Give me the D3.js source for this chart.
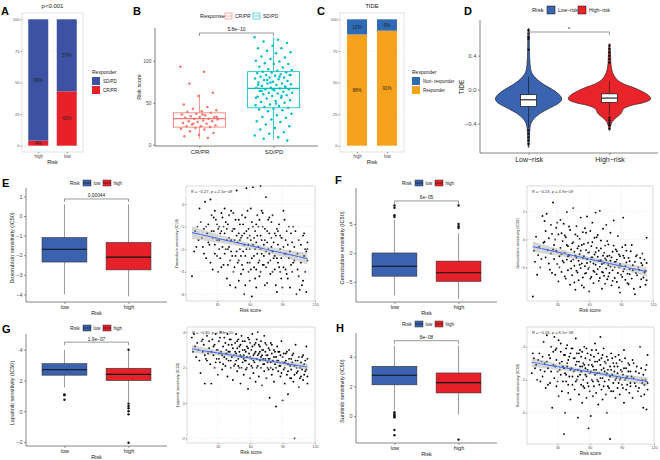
<!DOCTYPE html>
<html>
<head>
<meta charset="utf-8">
<script src="https://d3js.org/d3.v7.min.js"></script>
<style>
  body { margin: 0; background: #fff; }
  svg { font-family: "Liberation Sans", Arial, Helvetica, sans-serif; }
</style>
</head>
<body>
<svg id="fig" width="660" height="460"></svg>
<script>
// ---------------- data ----------------
var riskGroups = ['high', 'low']
var pctTicks = [0, 25, 50, 75, 100]
// A: responders by risk group (%)
var aCRPR = [4, 43]
var aSDPD = [96, 57]
// C: TIDE prediction (%)
var cResponder = [88, 91]
var cNonResponder = [12, 9]

// B: risk score by response
var responseGroups = ['CR/PR', 'SD/PD']
var crprScores = [93, 87, 73, 62, 58, 48, 45, 43, 41, 40, 39, 38, 37, 36, 35, 34, 33, 33, 32, 31, 31, 30, 29, 28, 28, 27,
  26, 25, 24, 23, 22, 22, 21, 20, 19, 18, 16, 14, 12, 10, 8, 25, 33, 36]
var sdpdScores = [128, 125, 123, 121, 118, 115, 115, 112, 110, 109, 105, 104, 102, 100, 99, 97, 96, 96, 93, 92, 90, 89, 88,
  87, 86, 86, 85, 84, 83, 83, 82, 81, 80, 80, 79, 78, 77, 76, 75, 74, 73, 73, 72, 71, 70, 69, 68, 68, 67, 66, 66, 65, 64,
  63, 62, 62, 61, 60, 59, 58, 57, 56, 55, 53, 52, 51, 50, 48, 47, 46, 45, 44, 43, 42, 41, 40, 37, 35, 33, 32, 30, 28, 27,
  24, 22, 20, 18, 15, 13, 11, 9, 7, 5, 66, 71, 58, 77, 83, 49, 64, 69, 74, 56, 81]
var bBoxStats = [[7, 21, 31, 38, 60], [6, 44, 67, 87, 128]]   // whisker lo, q1, median, q3, whisker hi
var bTicks = [0, 50, 100]

// D: TIDE violins (value, relative density)
var dGroups = ['Low-risk', 'High-risk']
var lowViolin = [[0.72, 0], [0.6, 0.012], [0.45, 0.015], [0.3, 0.03], [0.2, 0.07], [0.15, 0.14], [0.1, 0.25], [0.05, 0.4],
  [0, 0.58], [-0.05, 0.72], [-0.1, 0.8], [-0.13, 0.79], [-0.17, 0.7], [-0.22, 0.5], [-0.28, 0.28], [-0.34, 0.13],
  [-0.4, 0.05], [-0.5, 0.02], [-0.6, 0.012], [-0.68, 0]]
var highViolin = [[0.54, 0], [0.45, 0.015], [0.3, 0.03], [0.2, 0.07], [0.12, 0.17], [0.07, 0.33], [0.03, 0.55],
  [-0.02, 0.78], [-0.07, 0.95], [-0.11, 1.0], [-0.15, 0.85], [-0.19, 0.5], [-0.23, 0.33], [-0.28, 0.28], [-0.33, 0.16],
  [-0.38, 0.06], [-0.43, 0.02], [-0.48, 0]]
var dBoxStats = [[-0.45, -0.2, -0.12, -0.06, 0.15], [-0.3, -0.15, -0.1, -0.05, 0.1]]
var dOutliers = [[0.7, 0.66, 0.62, 0.6, 0.47, -0.48, -0.52, -0.56, -0.6, -0.64],
  [0.52, 0.48, 0.44, 0.4, 0.36, 0.32, -0.33, -0.36, -0.39, -0.42, -0.46]]
var dTicks = [-0.4, 0, 0.4]

// E-H: drug sensitivity box plots
var boxGroups = ['low', 'high']
var eStats = [[-4.0, -2.35, -1.7, -1.1, 0.6], [-4.1, -2.75, -2.1, -1.35, 0.6]]
var eOut = [[], []]
var fStats = [[-7.3, -4.0, -2.3, 0.0, 5.7], [-7.9, -4.9, -3.4, -1.4, 3.4]]
var fOut = [[6.2, 6.5, 7.8, 8.2], [4.3, 4.6, 5.0, 8.2]]
var gStats = [[1.55, 2.35, 2.7, 3.1, 4.0], [0.6, 2.0, 2.4, 2.8, 3.95]]
var gOut = [[1.1, 1.05, 0.75], [4.0, 0.5, 0.35, 0.2, 0.0, -0.2, -2.05]]
var hStats = [[0.4, 2.1, 2.75, 3.35, 4.75], [0.1, 1.55, 2.25, 2.9, 4.75]]
var hOut = [[0.25, 0.15, 0.05, -0.05, -0.1, -0.95, -1.3], [-1.6]]

// E-H: scatter vs risk score  [risk score, IC50]
var scatterTicks = [30, 60, 90, 120]
var ePts = [[7,-3.2],[9,-2.1],[10,-1.2],[12,-1.0],[13,-1.6],[14,-0.2],[16,-1.5],[17,-1.9],[18,-1.1],[19,0.1],[20,-2.4],[21,-1.3],
  [22,-0.9],[23,-1.8],[24,0.2],[25,-1.2],[26,-2.9],[27,-1.2],[27,-0.6],[28,-2.2],[29,-0.7],[29,-1.5],[30,-1.6],[31,-3.0],[31,-1.1],
  [32,-1.0],[33,-2.4],[33,-1.3],[34,-0.4],[35,-1.9],[36,-2.7],[36,-1.0],[37,-1.3],[38,-0.8],[38,-2.0],[39,-3.3],[39,-1.6],[40,-2.0],
  [40,-0.9],[41,-1.5],[42,-3.6],[42,-2.5],[43,-0.3],[44,-2.3],[44,-1.2],[45,-1.1],[46,-2.8],[46,-1.6],[47,-3.7],[47,-0.7],[48,0.6],
  [48,-2.1],[49,-1.7],[49,-2.6],[50,-2.5],[50,-1.3],[51,-0.9],[51,-2.0],[52,-3.1],[52,-1.5],[53,-1.4],[53,-0.5],[54,-2.1],[54,-2.9],
  [55,-4.0],[55,-1.8],[56,-0.6],[56,-2.3],[57,0.7],[57,-1.2],[58,-2.6],[58,-1.5],[59,-1.8],[59,-3.0],[60,-3.4],[60,-2.0],[61,-0.2],
  [61,-1.6],[62,-4.1],[62,-2.4],[63,0.75],[63,-1.0],[64,-2.3],[64,-2.8],[65,-1.2],[65,-3.3],[66,-2.9],[66,-1.7],[67,-0.5],[67,-2.2],
  [68,-1.9],[68,-1.0],[69,-3.2],[69,-2.5],[70,0.8],[70,-1.4],[71,-2.2],[71,-0.3],[72,-1.0],[72,-2.7],[73,-2.7],[73,-1.8],[74,-1.6],
  [74,-3.6],[75,0.3],[75,-2.1],[76,-3.5],[76,-1.2],[77,-2.0],[77,-2.6],[78,-1.3],[78,-0.6],[79,-2.5],[80,-0.8],[80,-1.9],[81,-3.0],
  [82,-1.7],[82,-2.4],[83,-2.3],[84,-3.6],[84,-1.4],[85,-1.1],[86,-2.6],[86,-1.8],[87,-0.9],[88,-2.0],[88,-3.0],[89,-3.3],[89,-1.5],
  [90,-1.5],[91,-2.8],[92,-0.7],[92,-2.2],[93,-2.2],[94,-3.1],[94,-1.2],[95,-1.8],[96,-2.4],[97,-3.7],[98,-1.3],[98,-2.7],[100,-2.6],
  [100,-1.0],[101,-1.9],[103,-4.0],[104,-2.9],[105,-1.6],[106,-3.8],[108,-3.6],[109,-1.4],[110,-2.3],[111,-3.0],[112,-2.1],[113,-2.5],[113,-2.0],
  [11,-1.9],[15,-0.8],[18,-2.2],[20,-1.0],[22,-1.7],[24,-2.6],[25,-0.5],[26,-1.5],[28,-0.3],[28,-1.8],[30,-2.3],[30,-0.9],[32,-2.0],
  [32,-1.6],[34,-1.2],[34,-2.8],[35,-0.6],[37,-2.2],[37,-0.2],[39,-1.1],[40,-2.7],[41,-0.5],[41,-1.9],[43,-1.6],[43,-2.1],[45,-3.0],
  [45,-0.4],[46,-1.1],[47,-2.3],[48,-1.4],[50,-0.7],[50,-3.4],[51,-1.6],[52,-2.3],[53,-2.7],[54,-0.9],[55,-1.3],[56,-3.6],[57,-2.0],
  [58,-0.3],[59,-1.1],[60,-1.4],[60,-2.6],[61,-2.9],[62,-0.8],[63,-1.8],[64,-1.5],[65,-2.0],[66,-0.9],[66,-3.7],[67,-1.4],[68,-2.6],
  [69,-0.7],[70,-2.0],[70,-3.0],[71,-1.6],[72,-0.4],[73,-2.3],[74,-1.1],[75,-2.8],[76,-1.7],[77,-0.7],[78,-2.2],[79,-3.1],[80,-1.5],
  [81,-2.1],[81,-0.5],[83,-1.3],[83,-2.9],[85,-2.4],[85,-3.9],[86,-1.2],[87,-2.8],[88,-1.4],[89,-2.4],[90,-3.7],[91,-1.9],[91,-0.3],
  [93,-1.6],[93,-2.9],[95,-3.3],[96,-1.0],[97,-2.1],[99,-1.7],[99,-3.0],[101,-2.5],[102,-1.2],[104,-2.2],[105,-3.2],[107,-2.6],
  [107,-1.8],[109,-3.4],[110,-1.3],[111,-2.0],[112,-3.9],[113,-1.7]]
var fPts = [[7,-10.2],[9,-4.0],[10,0.5],[12,-2.8],[13,-1.3],[14,-5.0],[16,4.2],[17,-0.6],[18,3.3],[19,-3.2],[20,4.6],[21,-1.9],
  [22,0.2],[23,-5.4],[24,-2.5],[25,1.0],[26,6.6],[27,-3.5],[27,-1.0],[28,-6.3],[29,2.1],[29,-2.0],[30,-4.4],[31,0.9],[31,-7.5],
  [32,-3.0],[33,3.5],[33,-1.5],[34,-5.8],[35,-0.3],[36,-4.1],[36,2.8],[37,-2.4],[38,-7.0],[38,0.4],[39,-3.6],[39,4.9],[40,-1.2],
  [40,-5.5],[41,-2.9],[42,1.7],[42,-8.1],[43,-3.9],[44,-0.7],[44,-6.4],[45,5.6],[46,-2.2],[46,-4.7],[47,0.9],[47,-9.0],[48,-3.3],
  [48,2.4],[49,-5.9],[49,-1.6],[50,-3.8],[50,-7.3],[51,0.1],[51,-2.6],[52,3.9],[52,-5.1],[53,-1.0],[53,-4.3],[54,-6.8],[54,1.3],
  [55,-3.0],[55,-8.6],[56,2.0],[56,-4.8],[57,-1.9],[57,-6.0],[58,4.1],[58,-3.5],[59,-0.6],[59,-5.3],[60,-2.3],[60,-9.3],[61,1.5],
  [61,-4.0],[62,-6.7],[62,-1.2],[63,3.0],[63,-3.2],[64,-5.6],[64,-7.8],[65,0.3],[65,-2.7],[66,-4.5],[66,4.8],[67,-1.5],[67,-6.2],
  [68,-3.1],[68,0.8],[69,-7.4],[69,-2.0],[70,5.1],[70,-4.9],[71,-3.7],[71,-0.2],[72,-5.8],[72,-8.8],[73,1.9],[73,-2.9],[74,-4.2],
  [74,-6.5],[75,-1.1],[75,-3.4],[76,-5.2],[76,2.6],[77,-7.1],[77,-3.0],[78,-0.9],[78,-4.6],[79,-6.0],[80,1.2],[80,-3.8],[81,-8.2],
  [82,-2.2],[82,-5.5],[83,3.4],[84,-4.0],[84,-6.9],[85,-1.8],[86,-3.6],[86,-7.6],[87,0.6],[88,-5.0],[88,-2.7],[89,-9.5],[89,-4.4],
  [90,-6.3],[91,-1.4],[92,-5.7],[92,3.9],[93,-3.3],[94,-7.2],[94,-4.8],[95,-2.0],[96,-6.1],[97,-8.0],[98,-3.9],[98,-5.3],[100,-1.0],
  [100,-7.0],[101,-4.6],[103,-9.8],[104,-3.0],[105,-6.4],[106,-5.0],[108,-8.5],[109,-4.2],[110,-2.5],[111,-6.8],[112,-3.6],[113,-5.6],
  [114,0.3],[114,-7.3],
  [8,-2.0],[11,-6.3],[15,-3.5],[18,-0.4],[19,1.5],[22,-4.3],[24,2.6],[25,-6.0],[26,-1.8],[28,0.0],[30,-2.3],[30,3.0],[32,-5.0],
  [34,-2.6],[34,1.1],[35,-3.8],[37,-6.6],[37,0.7],[39,-1.0],[40,-3.0],[41,2.3],[43,-5.2],[43,-1.8],[45,-3.6],[45,-0.5],[46,-7.7],
  [47,-2.9],[48,-5.6],[49,0.6],[50,-1.2],[51,-4.5],[52,-2.0],[53,-8.2],[54,-3.3],[55,-0.8],[56,-6.1],[57,1.2],[58,-4.2],[59,-2.4],
  [60,-5.0],[61,-7.0],[62,-3.2],[63,-0.5],[64,-4.3],[65,-5.8],[66,-2.3],[67,0.4],[68,-5.3],[69,-3.8],[70,-6.9],[71,-1.6],[72,-4.4],
  [73,-5.9],[74,-2.4],[75,-7.9],[76,-3.7],[77,-0.3],[78,-6.6],[79,-2.9],[80,-4.9],[81,-3.2],[82,-7.4],[83,-1.1],[84,-5.0],[85,-4.0],
  [86,-2.1],[87,-6.0],[88,-8.6],[89,-3.0],[90,-4.8],[91,-6.7],[92,-2.9],[93,-5.3],[94,-1.0],[95,-4.1],[96,-7.8],[97,-3.3],[98,-6.2],
  [99,-2.1],[101,-5.5],[102,-8.8],[103,-4.0],[104,-6.0],[105,-2.8],[107,-5.4],[108,-3.3],[109,-7.1],[110,-4.6],[112,-5.9],[113,-8.1],
  [114,-4.2]]
var gPts = [[6,3.7],[8,3.9],[9,3.2],[10,2.6],[12,3.0],[14,1.7],[15,3.5],[16,2.9],[17,3.3],[18,1.1],[19,2.5],[20,3.8],[21,2.8],
  [22,3.1],[23,2.2],[24,1.1],[25,3.6],[26,2.7],[27,3.3],[27,2.0],[28,3.9],[29,2.5],[29,3.0],[30,1.6],[31,2.8],[31,3.5],[32,2.3],
  [33,4.0],[33,2.9],[34,1.9],[35,3.2],[36,2.6],[36,3.7],[37,2.1],[38,3.0],[38,2.8],[39,3.9],[39,1.5],[40,2.4],[40,3.3],[41,2.9],
  [42,2.0],[42,3.6],[43,2.6],[44,3.1],[44,1.3],[45,2.7],[46,3.4],[46,2.2],[47,3.9],[47,2.8],[48,1.8],[48,3.1],[49,2.5],[49,3.6],
  [50,2.0],[50,2.9],[51,3.3],[51,1.1],[52,2.6],[52,3.8],[53,2.3],[53,3.0],[54,1.6],[54,2.7],[55,3.5],[55,2.4],[56,2.9],[56,1.9],
  [57,3.2],[57,2.6],[58,0.8],[58,3.7],[59,2.2],[59,2.8],[60,3.4],[60,1.4],[61,2.5],[61,3.0],[62,2.0],[62,3.9],[63,2.7],[63,1.7],
  [64,3.3],[64,2.3],[65,2.9],[65,1.2],[66,3.6],[66,2.5],[67,4.0],[67,2.1],[68,2.8],[68,1.5],[69,3.2],[69,2.4],[70,2.0],[70,3.5],
  [71,2.7],[71,1.0],[72,3.0],[72,2.2],[73,3.8],[73,1.8],[74,2.5],[74,2.9],[75,1.4],[75,3.3],[76,2.3],[76,2.7],[77,3.1],[77,1.9],
  [78,0.3],[78,2.5],[79,3.4],[79,2.0],[80,2.8],[80,1.6],[81,2.4],[82,3.0],[82,1.2],[83,2.2],[84,-0.2],[84,2.6],[85,3.2],[86,1.8],
  [86,2.4],[87,2.9],[88,1.5],[88,2.1],[89,3.5],[90,0.15],[90,2.6],[91,1.9],[92,2.3],[92,1.1],[93,2.8],[94,1.6],[95,0.5],[95,2.2],
  [96,3.0],[97,1.4],[98,2.5],[98,1.9],[99,2.7],[100,1.2],[101,-2.0],[101,2.1],[102,3.3],[103,1.7],[104,2.4],[105,0.9],[106,2.0],
  [107,1.5],[108,2.6],[109,1.3],[110,2.2],[111,1.8],[112,3.2],[113,1.5],[113,2.5],
  [7,2.9],[11,3.4],[13,2.4],[16,3.6],[18,2.7],[20,2.4],[22,3.5],[24,2.9],[26,3.2],[28,2.3],[30,3.0],[31,2.5],[32,3.7],[34,2.7],
  [35,2.2],[37,3.4],[38,2.5],[40,2.9],[41,3.6],[42,2.4],[43,3.3],[45,2.1],[46,2.9],[47,2.4],[48,3.5],[49,2.1],[50,3.2],[51,2.7],
  [52,2.0],[53,3.5],[54,2.5],[55,3.0],[56,2.4],[57,2.0],[58,3.1],[59,3.6],[60,2.6],[61,2.1],[62,3.2],[63,2.4],[64,2.8],[65,3.4],
  [66,2.0],[67,2.7],[68,3.3],[69,2.9],[70,2.6],[71,3.0],[72,2.5],[73,2.2],[74,3.4],[75,2.7],[76,2.0],[77,2.5],[78,3.0],[79,2.3],
  [80,3.3],[81,1.9],[82,2.6],[83,2.9],[84,2.0],[85,2.4],[86,2.9],[87,2.1],[88,2.7],[89,1.7],[90,2.3],[91,2.8],[92,2.0],[93,2.4],
  [94,2.9],[95,1.8],[96,2.5],[97,2.1],[98,1.4],[99,2.3],[100,2.8],[101,1.6],[102,2.4],[103,2.0],[104,1.8],[105,2.6],[106,1.4],
  [107,2.3],[108,1.9],[109,2.7],[110,1.6],[111,2.4],[112,1.9],[113,1.1]]
var hPts = [[6,2.4],[8,3.3],[10,2.9],[11,2.0],[13,3.6],[14,2.6],[15,3.1],[16,2.2],[17,4.3],[18,3.0],[19,1.5],[20,4.7],[21,2.7],
  [22,3.5],[23,1.8],[24,4.0],[25,0.3],[26,2.9],[27,4.6],[27,2.1],[28,3.8],[29,1.6],[29,3.2],[30,2.5],[31,4.4],[31,1.0],[32,3.0],
  [33,2.3],[33,3.7],[34,1.3],[35,2.8],[36,-1.3],[36,3.5],[37,0.0],[37,2.4],[38,3.9],[38,1.9],[39,2.8],[39,4.1],[40,1.2],[40,3.2],
  [41,2.2],[42,3.6],[42,0.8],[43,2.7],[44,1.7],[44,3.9],[45,2.5],[46,3.3],[46,1.4],[47,2.9],[47,4.5],[48,2.0],[48,3.6],[49,-0.3],
  [49,2.6],[50,3.1],[50,1.1],[51,3.8],[51,2.3],[52,1.7],[52,3.4],[53,2.8],[53,0.6],[54,3.0],[54,2.0],[55,4.0],[55,1.5],[56,2.7],
  [56,3.3],[57,0.9],[57,2.2],[58,3.6],[58,1.8],[59,-0.95],[59,2.9],[60,3.2],[60,1.3],[61,-0.2],[61,2.5],[62,3.8],[62,2.0],[63,1.0],
  [63,2.8],[64,3.4],[64,1.6],[65,2.3],[65,4.2],[66,2.6],[66,1.2],[67,3.1],[67,2.0],[68,0.5],[68,3.6],[69,2.4],[69,1.7],[70,2.9],
  [70,4.6],[71,1.4],[71,3.3],[72,2.1],[72,0.8],[73,2.7],[73,3.9],[74,1.9],[74,2.5],[75,3.0],[75,1.1],[76,0.0],[76,2.4],[77,3.2],
  [77,1.6],[78,2.0],[79,-1.6],[79,2.8],[80,3.6],[80,1.3],[81,2.3],[82,1.8],[82,3.0],[83,2.5],[84,0.9],[84,3.4],[85,2.1],[86,1.5],
  [86,2.8],[87,3.5],[88,2.0],[88,1.1],[89,2.6],[90,3.1],[90,1.7],[91,2.3],[92,0.6],[92,3.8],[93,2.0],[94,2.7],[94,1.4],[95,2.2],
  [96,3.0],[97,1.2],[98,2.5],[98,1.8],[100,3.2],[100,0.9],[101,2.1],[103,1.6],[104,2.8],[105,1.3],[106,2.4],[107,4.0],[108,1.0],
  [109,2.0],[110,0.3],[111,1.7],[112,2.6],[113,0.2],[114,3.5],[114,1.4],
  [7,3.6],[9,2.7],[12,3.2],[14,1.9],[16,3.4],[18,2.5],[20,3.1],[21,1.7],[23,3.3],[24,2.5],[26,3.7],[28,2.8],[29,3.9],[30,1.9],
  [32,2.6],[33,4.2],[34,3.1],[35,1.9],[36,2.7],[37,3.5],[38,2.3],[39,3.0],[40,1.7],[41,3.4],[42,2.6],[43,3.9],[44,2.2],[45,3.3],
  [46,2.6],[47,1.9],[48,3.1],[49,2.2],[50,3.6],[51,2.8],[52,2.5],[53,3.7],[54,1.6],[55,2.9],[56,2.3],[57,3.9],[58,2.6],[59,1.6],
  [60,2.4],[61,3.5],[62,2.9],[63,1.9],[64,2.6],[65,3.1],[66,3.8],[67,2.4],[68,1.9],[69,3.2],[70,2.1],[71,2.6],[72,3.5],[73,1.6],
  [74,3.1],[75,2.3],[76,3.4],[77,2.6],[78,1.5],[79,2.2],[80,2.6],[81,3.3],[82,1.3],[83,2.8],[84,2.0],[85,3.0],[86,2.4],[87,1.8],
  [88,3.2],[89,2.1],[90,2.5],[91,1.5],[92,2.7],[93,3.3],[94,2.1],[95,1.7],[96,2.5],[97,2.9],[98,1.6],[99,2.2],[101,3.0],[102,1.8],
  [103,2.5],[105,2.0],[106,1.5],[108,2.7],[109,1.8],[110,2.3],[111,1.1],[112,2.0],[113,2.9],[114,1.8]]
// fitted lines: [intercept, slope]
var eFit = [-1.19, -0.0109]
var fFit = [-1.0, -0.0417]
var gFit = [3.12, -0.0096]
var hFit = [3.12, -0.0108]

// ---------------- drawing ----------------
var svg = d3.select('#fig')
var riskColors = ['#3A62AE', '#E6212A']

function label(x, y, s, fs, o) {
  o = o || {}
  var t = svg.append('text').attr('x', x).attr('y', y).text(s).attr('font-size', fs)
    .attr('text-anchor', o.anchor || 'start').attr('fill', o.fill || '#000')
  if (o.bold) t.attr('font-weight', 'bold')
  if (o.rotate) t.attr('transform', 'rotate(-90,' + x + ',' + y + ')')
  return t
}

function styleAxis(g, fs, col) {
  g.attr('font-family', null)
  g.select('.domain').remove()
  g.selectAll('.tick line').attr('stroke', '#333').attr('stroke-width', 0.5)
  g.selectAll('.tick text').attr('font-size', fs).attr('fill', col || '#4d4d4d')
}

function hline(x1, x2, y, col, w) {
  svg.append('line').attr('x1', x1).attr('x2', x2).attr('y1', y).attr('y2', y).attr('stroke', col).attr('stroke-width', w)
}
function vline(x, y1, y2, col, w) {
  svg.append('line').attr('x1', x).attr('x2', x).attr('y1', y1).attr('y2', y2).attr('stroke', col).attr('stroke-width', w)
}

// panel letters
label(1, 15, 'A', 11, {bold: true})
label(133, 15, 'B', 11, {bold: true})
label(317, 15, 'C', 11, {bold: true})
label(464, 15, 'D', 11, {bold: true})
label(2, 187, 'E', 11, {bold: true})
label(335, 184, 'F', 11, {bold: true})
label(2, 333, 'G', 11, {bold: true})
label(336, 332, 'H', 11, {bold: true})

// ---- A and C: stacked bars
function stackPanel(o) {
  var x = d3.scalePoint().domain(riskGroups).range([o.x0, o.x1]).padding(0.57)
  var y = d3.scaleLinear().domain([-5, 105]).range([o.y1, o.y0])
  var g = svg.append('g')
  g.append('rect').attr('x', o.x0).attr('y', o.y0).attr('width', o.x1 - o.x0).attr('height', o.y1 - o.y0)
    .attr('fill', '#fff').attr('stroke', '#cfcfcf').attr('stroke-width', 0.6)
  g.selectAll('line.grid').data(pctTicks).enter().append('line')
    .attr('x1', o.x0).attr('x2', o.x1).attr('y1', function (d) { return y(d) }).attr('y2', function (d) { return y(d) })
    .attr('stroke', '#f0f0f0').attr('stroke-width', 0.4)
  var bw = 20
  g.selectAll('rect.lo').data(o.bottom).enter().append('rect')
    .attr('x', function (d, i) { return x(riskGroups[i]) - bw / 2 }).attr('width', bw)
    .attr('y', function (d) { return y(d) }).attr('height', function (d) { return y(0) - y(d) })
    .attr('fill', o.colors[0])
  g.selectAll('rect.hi').data(o.top).enter().append('rect')
    .attr('x', function (d, i) { return x(riskGroups[i]) - bw / 2 }).attr('width', bw)
    .attr('y', function (d, i) { return y(o.bottom[i] + d) })
    .attr('height', function (d, i) { return y(o.bottom[i]) - y(o.bottom[i] + d) })
    .attr('fill', o.colors[1])
  o.bottom.forEach(function (b, i) {
    label(x(riskGroups[i]), y(b / 2) + 1.6, b + '%', 4.5, {anchor: 'middle', fill: '#222'})
    label(x(riskGroups[i]), y(b + o.top[i] / 2) + 1.6, o.top[i] + '%', 4.5, {anchor: 'middle', fill: '#222'})
  })
  var ya = g.append('g').attr('transform', 'translate(' + o.x0 + ',0)')
    .call(d3.axisLeft(y).tickValues(pctTicks).tickSize(1.5).tickPadding(1))
  styleAxis(ya, 4)
  var xa = g.append('g').attr('transform', 'translate(0,' + o.y1 + ')')
    .call(d3.axisBottom(x).tickSize(1.5).tickPadding(1))
  styleAxis(xa, 4.5)
  label((o.x0 + o.x1) / 2, o.y1 + 12, 'Risk', 5.5, {anchor: 'middle', fill: '#222'})
  label((o.x0 + o.x1) / 2, 8, o.title, 6, {anchor: 'middle', fill: '#222'})
  // legend
  label(o.lx, 74, 'Responder', 5, {fill: '#222'})
  o.legend.forEach(function (l, i) {
    svg.append('rect').attr('x', o.lx).attr('y', 77 + i * 9).attr('width', 8).attr('height', 8).attr('fill', l[1])
    label(o.lx + 11, 83 + i * 9, l[0], 4.5, {fill: '#222'})
  })
}

stackPanel({x0: 22, x1: 83, y0: 13, y1: 152, bottom: aCRPR, top: aSDPD, colors: ['#E8202A', '#3C52A3'],
  title: 'p<0.001', lx: 92, legend: [['SD/PD', '#3C52A3'], ['CR/PR', '#E8202A']]})
stackPanel({x0: 340, x1: 404, y0: 13, y1: 152, bottom: cResponder, top: cNonResponder, colors: ['#F7A21C', '#2F6AB4'],
  title: 'TIDE', lx: 412, legend: [['Non\u2212responder', '#2F6AB4'], ['Responder', '#F7A21C']]})

// ---- B: box + jitter
;(function () {
  var x = d3.scalePoint().domain(responseGroups).range([155, 318]).padding(0.6)
  var y = d3.scaleLinear().domain([-1.5, 139]).range([146, 28])
  var bw = x.step() * 0.7
  var cols = ['#F8766D', '#00BFC4']
  var g = svg.append('g')
  bBoxStats.forEach(function (s, i) {
    var cx = x(responseGroups[i])
    g.append('line').attr('x1', cx).attr('x2', cx).attr('y1', y(s[0])).attr('y2', y(s[4])).attr('stroke', cols[i]).attr('stroke-width', 0.8)
    g.append('rect').attr('x', cx - bw / 2).attr('width', bw).attr('y', y(s[3])).attr('height', y(s[1]) - y(s[3]))
      .attr('fill', '#fff').attr('stroke', cols[i]).attr('stroke-width', 0.8)
    g.append('line').attr('x1', cx - bw / 2).attr('x2', cx + bw / 2).attr('y1', y(s[2])).attr('y2', y(s[2]))
      .attr('stroke', cols[i]).attr('stroke-width', 1.2)
  })
  ;[crprScores, sdpdScores].forEach(function (arr, i) {
    var cx = x(responseGroups[i])
    g.selectAll(null).data(arr).enter().append('circle')
      .attr('cx', function (d, k) { return cx + (((k * 0.6180339887) % 1) - 0.5) * 38 })
      .attr('cy', function (d) { return y(d) }).attr('r', 1.25).attr('fill', cols[i])
  })
  vline(155, 28, 146, '#222', 0.6)
  hline(155, 318, 146, '#222', 0.6)
  var ya = g.append('g').attr('transform', 'translate(155,0)').call(d3.axisLeft(y).tickValues(bTicks).tickSize(2).tickPadding(1.5))
  styleAxis(ya, 5)
  var xa = g.append('g').attr('transform', 'translate(0,146)').call(d3.axisBottom(x).tickSize(2).tickPadding(2))
  styleAxis(xa, 6, '#222')
  label(141, 87, 'Risk score', 5.5, {anchor: 'middle', rotate: true, fill: '#222'})
  // bracket
  var by = 33
  g.append('path').attr('d', 'M' + x('CR/PR') + ',' + (by + 3) + 'V' + by + 'H' + x('SD/PD') + 'V' + (by + 3))
    .attr('fill', 'none').attr('stroke', '#555').attr('stroke-width', 0.6)
  label((x('CR/PR') + x('SD/PD')) / 2, by - 2, '5.8e\u221210', 5, {anchor: 'middle', fill: '#222'})
  // legend
  label(200, 18, 'Response', 5.5, {fill: '#222'})
  ;[['CR/PR', 225], ['SD/PD', 253]].forEach(function (l, i) {
    svg.append('rect').attr('x', l[1]).attr('y', 13).attr('width', 7).attr('height', 6).attr('fill', '#fff')
      .attr('stroke', cols[i]).attr('stroke-width', 0.6)
    hline(l[1], l[1] + 7, 16, cols[i], 0.6)
    label(l[1] + 10, 18, l[0], 5, {fill: '#222'})
  })
})()

// ---- D: violins
;(function () {
  var x = d3.scalePoint().domain(dGroups).range([480, 658]).padding(0.6)
  var y = d3.scaleLinear().domain([-0.747, 0.82]).range([153, 20])
  var w = d3.scaleLinear().domain([0, 1]).range([0, 41])
  var g = svg.append('g')
  var cols = ['#3A63B0', '#E8232A']
  ;[lowViolin, highViolin].forEach(function (v, i) {
    var cx = x(dGroups[i])
    var area = d3.area().curve(d3.curveCatmullRom)
      .y(function (d) { return y(d[0]) })
      .x0(function (d) { return cx - w(d[1]) - 0.3 })
      .x1(function (d) { return cx + w(d[1]) + 0.3 })
    g.append('path').attr('d', area(v)).attr('fill', cols[i]).attr('stroke', '#111').attr('stroke-width', 0.6)
  })
  dBoxStats.forEach(function (s, i) {
    var cx = x(dGroups[i]), bw = 16
    g.append('line').attr('x1', cx).attr('x2', cx).attr('y1', y(s[0])).attr('y2', y(s[4])).attr('stroke', '#111').attr('stroke-width', 0.6)
    g.append('rect').attr('x', cx - bw / 2).attr('width', bw).attr('y', y(s[3])).attr('height', y(s[1]) - y(s[3]))
      .attr('fill', '#fff').attr('stroke', '#111').attr('stroke-width', 0.7)
    g.append('line').attr('x1', cx - bw / 2).attr('x2', cx + bw / 2).attr('y1', y(s[2])).attr('y2', y(s[2]))
      .attr('stroke', '#111').attr('stroke-width', 1.1)
    g.selectAll(null).data(dOutliers[i]).enter().append('circle')
      .attr('cx', cx).attr('cy', function (d) { return y(d) }).attr('r', 1.2).attr('fill', '#111')
  })
  vline(480, 20, 153, '#333', 0.6)
  hline(480, 658, 153, '#333', 0.6)
  var ya = g.append('g').attr('transform', 'translate(480,0)')
    .call(d3.axisLeft(y).tickValues(dTicks).tickFormat(d3.format('.1f')).tickSize(2).tickPadding(1.5))
  styleAxis(ya, 6)
  var xa = g.append('g').attr('transform', 'translate(0,153)').call(d3.axisBottom(x).tickSize(2).tickPadding(2))
  styleAxis(xa, 7, '#222')
  xa.selectAll('.tick text').text(function (d) { return d.replace('-', '\u2212') })
  label(464, 87, 'TIDE', 6.5, {anchor: 'middle', rotate: true, fill: '#222'})
  var by = 32
  g.append('path').attr('d', 'M' + x(dGroups[0]) + ',' + (by + 3) + 'V' + by + 'H' + x(dGroups[1]) + 'V' + (by + 3))
    .attr('fill', 'none').attr('stroke', '#555').attr('stroke-width', 0.6)
  label((x(dGroups[0]) + x(dGroups[1])) / 2, by - 1, '*', 6, {anchor: 'middle', fill: '#222'})
  label(532, 12, 'Risk', 6, {fill: '#222'})
  ;[['Low\u2212risk', 547], ['High\u2212risk', 578]].forEach(function (l, i) {
    svg.append('rect').attr('x', l[1]).attr('y', 6).attr('width', 8).attr('height', 8).attr('fill', cols[i])
      .attr('stroke', '#111').attr('stroke-width', 0.5)
    label(l[1] + 11, 12, l[0], 5, {fill: '#222'})
  })
})()

// ---- E-H: box panels
function boxPanel(o) {
  var x = d3.scalePoint().domain(boxGroups).range([o.x0, o.x1]).padding(0.6)
  var y = d3.scaleLinear().domain(o.domain).range([o.y1, o.y0])
  var bw = x.step() * 0.7
  var g = svg.append('g')
  o.stats.forEach(function (s, i) {
    var cx = x(boxGroups[i])
    g.append('line').attr('x1', cx).attr('x2', cx).attr('y1', y(s[0])).attr('y2', y(s[4])).attr('stroke', '#555').attr('stroke-width', 0.6)
    g.append('rect').attr('x', cx - bw / 2).attr('width', bw).attr('y', y(s[3])).attr('height', y(s[1]) - y(s[3]))
      .attr('fill', riskColors[i]).attr('stroke', '#333').attr('stroke-width', 0.6)
    g.append('line').attr('x1', cx - bw / 2).attr('x2', cx + bw / 2).attr('y1', y(s[2])).attr('y2', y(s[2]))
      .attr('stroke', '#111').attr('stroke-width', 1.1)
    g.selectAll(null).data(o.outliers[i]).enter().append('circle')
      .attr('cx', cx).attr('cy', function (d) { return y(d) }).attr('r', 1.2).attr('fill', '#111')
  })
  vline(o.x0, o.y0, o.y1, '#333', 0.6)
  hline(o.x0, o.x1, o.y1, '#333', 0.6)
  var ya = g.append('g').attr('transform', 'translate(' + o.x0 + ',0)')
    .call(d3.axisLeft(y).tickValues(o.ticks).tickFormat(d3.format('d')).tickSize(2).tickPadding(1.5))
  styleAxis(ya, 5.5)
  var xa = g.append('g').attr('transform', 'translate(0,' + o.y1 + ')').call(d3.axisBottom(x).tickSize(2).tickPadding(1))
  styleAxis(xa, 5.5, '#222')
  label((o.x0 + o.x1) / 2, o.y1 + 12.5, 'Risk', 5.5, {anchor: 'middle', fill: '#222'})
  label(o.x0 - 12, (o.y0 + o.y1) / 2 + 3, o.ylab, 5.5, {anchor: 'middle', rotate: true, fill: '#222'})
  var by = y(o.bracket)
  g.append('path').attr('d', 'M' + x('low') + ',' + (by + 3) + 'V' + by + 'H' + x('high') + 'V' + (by + 3))
    .attr('fill', 'none').attr('stroke', '#555').attr('stroke-width', 0.6)
  label((x('low') + x('high')) / 2, by - 1.5, o.pval, 4.8, {anchor: 'middle', fill: '#222'})
  // legend
  label(o.lx, o.ly + 2, 'Risk', 5, {fill: '#222'})
  ;['low', 'high'].forEach(function (l, i) {
    var kx = o.lx + 13 + i * 20
    svg.append('rect').attr('x', kx).attr('y', o.ly - 3).attr('width', 8).attr('height', 6).attr('fill', riskColors[i])
      .attr('stroke', '#333').attr('stroke-width', 0.5)
    hline(kx, kx + 8, o.ly, '#111', 0.6)
    label(kx + 10.5, o.ly + 2, l, 4.5, {fill: '#222'})
  })
}

boxPanel({x0: 26, x1: 167, y0: 188, y1: 302, domain: [-4.39, 1.43], ticks: [-4, -3, -2, -1, 0, 1], stats: eStats, outliers: eOut,
  ylab: 'Doxorubicin sensitivity (IC50)', bracket: 0.87, pval: '0.00044', lx: 70, ly: 183})
boxPanel({x0: 356, x1: 497, y0: 188, y1: 302, domain: [-8.45, 11.2], ticks: [-5, 0, 5], stats: fStats, outliers: fOut,
  ylab: 'Gemcitabine sensitivity (IC50)', bracket: 8.97, pval: '6e\u221205', lx: 402, ly: 183})
boxPanel({x0: 26, x1: 167, y0: 334, y1: 446, domain: [-2.26, 5.03], ticks: [-2, 0, 2, 4], stats: gStats, outliers: gOut,
  ylab: 'Lapatinib sensitivity (IC50)', bracket: 4.5, pval: '1.9e\u221207', lx: 70, ly: 328})
boxPanel({x0: 356, x1: 497, y0: 333, y1: 443, domain: [-1.83, 5.6], ticks: [0, 2, 4], stats: hStats, outliers: hOut,
  ylab: 'Sunitinib sensitivity (IC50)', bracket: 5.08, pval: '8e\u221208', lx: 402, ly: 324})

// ---- E-H: scatter panels
function scatterPanel(o) {
  var x = d3.scaleLinear().domain([1.5, 120]).range([o.x0, o.x1])
  var y = d3.scaleLinear().domain(o.domain).range([o.y1, o.y0])
  var g = svg.append('g')
  g.append('rect').attr('x', o.x0).attr('y', o.y0).attr('width', o.x1 - o.x0).attr('height', o.y1 - o.y0).attr('fill', '#fff')
  var minorX = [15, 45, 75, 105], minorY = o.ticks.slice(0, -1).map(function (t, i) { return (t + o.ticks[i + 1]) / 2 })
  minorX.forEach(function (t) { vline(x(t), o.y0, o.y1, '#f5f5f5', 0.3) })
  minorY.forEach(function (t) { hline(o.x0, o.x1, y(t), '#f5f5f5', 0.3) })
  scatterTicks.forEach(function (t) { vline(x(t), o.y0, o.y1, '#ebebeb', 0.4) })
  o.ticks.forEach(function (t) { hline(o.x0, o.x1, y(t), '#ebebeb', 0.4) })
  // confidence band around the fitted line
  var n = o.pts.length, mx = d3.mean(o.pts, function (d) { return d[0] })
  var sxx = d3.sum(o.pts, function (d) { return (d[0] - mx) * (d[0] - mx) })
  var s = Math.sqrt(d3.sum(o.pts, function (d) { var r = d[1] - (o.fit[0] + o.fit[1] * d[0]); return r * r }) / (n - 2))
  var ext = d3.extent(o.pts, function (d) { return d[0] })
  var xs = d3.range(ext[0], ext[1] + 0.001, (ext[1] - ext[0]) / 40)
  var band = xs.map(function (xx) {
    var f = o.fit[0] + o.fit[1] * xx, h = 1.97 * s * Math.sqrt(1 / n + (xx - mx) * (xx - mx) / sxx)
    return [xx, f - h, f + h, f]
  })
  g.selectAll(null).data(o.pts).enter().append('circle')
    .attr('cx', function (d) { return x(d[0]) }).attr('cy', function (d) { return y(d[1]) }).attr('r', 0.95).attr('fill', '#000')
  g.append('path').attr('d', d3.area().x(function (d) { return x(d[0]) }).y0(function (d) { return y(d[1]) })
    .y1(function (d) { return y(d[2]) })(band)).attr('fill', '#999').attr('opacity', 0.4)
  g.append('path').attr('d', d3.line().x(function (d) { return x(d[0]) }).y(function (d) { return y(d[3]) })(band))
    .attr('fill', 'none').attr('stroke', '#3366FF').attr('stroke-width', 1)
  g.append('rect').attr('x', o.x0).attr('y', o.y0).attr('width', o.x1 - o.x0).attr('height', o.y1 - o.y0)
    .attr('fill', 'none').attr('stroke', '#c4c4c4').attr('stroke-width', 0.6)
  var ya = g.append('g').attr('transform', 'translate(' + o.x0 + ',0)')
    .call(d3.axisLeft(y).tickValues(o.ticks).tickFormat(d3.format('d')).tickSize(1.2).tickPadding(0.8))
  styleAxis(ya, 3.6)
  var xa = g.append('g').attr('transform', 'translate(0,' + o.y1 + ')')
    .call(d3.axisBottom(x).tickValues(scatterTicks).tickSize(1.2).tickPadding(0.8))
  styleAxis(xa, 3.6)
  label((o.x0 + o.x1) / 2, o.y1 + 10.5, 'Risk score', 4.6, {anchor: 'middle', fill: '#222'})
  label(o.x0 - 8.5, (o.y0 + o.y1) / 2, o.ylab, 3.8, {anchor: 'middle', rotate: true, fill: '#222'})
  label(o.x0 + 5, o.y0 + 6.5, o.note, 4, {fill: '#333'})
}

scatterPanel({x0: 186, x1: 315, y0: 186, y1: 301, domain: [-4.3, 0.8], ticks: [-4, -3, -2, -1, 0], pts: ePts, fit: eFit,
  ylab: 'Doxorubicin sensitivity (IC50)', note: 'R = \u22120.27, p = 2.5e\u221208'})
scatterPanel({x0: 527, x1: 653, y0: 186, y1: 301, domain: [-11, 9.55], ticks: [-5, 0, 5], pts: fPts, fit: fFit,
  ylab: 'Gemcitabine sensitivity (IC50)', note: 'R = \u22120.23, p = 4.9e\u221209'})
scatterPanel({x0: 187, x1: 315, y0: 327, y1: 443, domain: [-2.26, 4.3], ticks: [-2, 0, 2, 4], pts: gPts, fit: gFit,
  ylab: 'Lapatinib sensitivity (IC50)', note: 'R = \u22120.30, p = 1.3e\u221210'})
scatterPanel({x0: 527, x1: 654, y0: 327, y1: 444, domain: [-1.9, 5.2], ticks: [0, 2, 4], pts: hPts, fit: hFit,
  ylab: 'Sunitinib sensitivity (IC50)', note: 'R = \u22120.26, p = 8.1e\u221208'})
</script>
</body>
</html>
